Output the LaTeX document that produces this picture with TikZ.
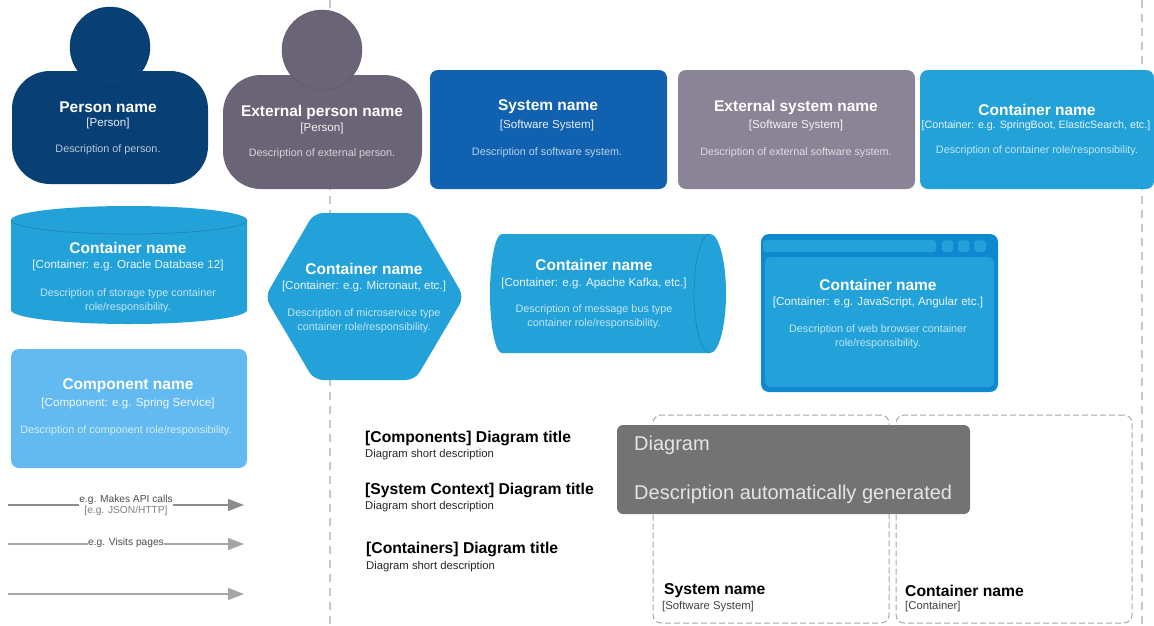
\documentclass[tikz,border=0pt]{standalone}
\usepackage{fontspec}
\setmainfont{Liberation Sans}
\usetikzlibrary{arrows.meta}
\definecolor{personblue}{HTML}{083F75}
\definecolor{extperson}{HTML}{6B6477}
\definecolor{systemblue}{HTML}{1061B0}
\definecolor{extsystem}{HTML}{8B8496}
\definecolor{containerblue}{HTML}{23A2D9}
\definecolor{browserblue}{HTML}{0F88CF}
\definecolor{componentblue}{HTML}{63BAF0}
\definecolor{tipgrey}{HTML}{737373}
\definecolor{guidegrey}{HTML}{C8C8C8}
\tikzset{
  card/.style={inner sep=0pt,rounded corners=8pt},
  cardname/.style={inner sep=0pt,text=white,font=\bfseries\fontsize{15.5}{17}\selectfont},
  cardtype/.style={inner sep=0pt,text=white,text opacity=.9,font=\fontsize{11.6}{13}\selectfont},
  carddesc/.style={inner sep=0pt,text=white,text opacity=.72,align=center,font=\fontsize{10.8}{14}\selectfont},
  plainname/.style={inner sep=0pt,anchor=west,font=\bfseries\fontsize{15.7}{17}\selectfont},
  plaintype/.style={inner sep=0pt,anchor=west,text=black!75,font=\fontsize{11.3}{13}\selectfont},
  frame/.style={draw=black!35,line width=1pt,dash pattern=on 6pt off 3pt,rounded corners=8pt,inner sep=0pt},
  guide/.style={draw=guidegrey,line width=1.2pt,dash pattern=on 8pt off 6pt},
  rel/.style={draw=black!45,line width=1.2pt,-{Triangle[length=16pt,width=12pt]}},
  rellabel/.style={fill=white,inner sep=0pt,align=center,text=black!70,font=\fontsize{10.2}{12}\selectfont},
  tiptext/.style={inner sep=0pt,anchor=west,text=white!90!black,font=\fontsize{20}{22}\selectfont}
}
\begin{document}
\begin{tikzpicture}[x=1pt,y=-1pt]
\useasboundingbox (0,0) rectangle (1154,625);
  % page guides
  \foreach \x in {330,1142}
    \draw[guide] (\x,0) -- (\x,625);
  % people
  \node[card,fill=personblue,rounded corners=38pt,minimum width=196pt,minimum height=113pt] (person) at (110,127.5) {};
  \node[circle,inner sep=0pt,fill=personblue,draw=black!15!personblue,minimum size=80pt] (personhead) at (110,47) {};
  \node[card,fill=extperson,rounded corners=38pt,minimum width=199pt,minimum height=114pt] (extp) at (322.5,132) {};
  \node[circle,inner sep=0pt,fill=extperson,draw=black!15!extperson,minimum size=80pt] (extphead) at (322,50) {};
  % boxes
  \foreach \n/\c/\x/\y/\w/\h in
    { system/systemblue/548.5/129.5/237/119,
      extsystem/extsystem/796.5/129.5/237/119,
      container/containerblue/1037/129.5/234/119,
      component/componentblue/129/408.5/236/119,
      browser/browserblue/879.5/313/237/158
    }
    \node[card,fill=\c,minimum width=\w pt,minimum height=\h pt] (\n) at (\x,\y) {};
  % browser window parts
  \node[card,fill=containerblue,rounded corners=6pt,minimum width=229pt,minimum height=130pt] (browserpane) at (879.5,322) {};
  \node[fill=containerblue,inner sep=0pt,rounded corners=3pt,minimum width=173pt,minimum height=12pt] (browserbar) at (849.5,246) {};
  \foreach \n/\x in {a/947.5,b/963.5,c/980}
    \node[fill=containerblue,inner sep=0pt,rounded corners=3pt,minimum size=11.5pt] (browserbtn\n) at (\x,246) {};
  % database
  \fill[containerblue] (11,220) arc[start angle=180,end angle=0,x radius=118pt,y radius=14pt]
    -- (247,310) arc[start angle=0,end angle=-180,x radius=118pt,y radius=14pt] -- cycle;
  \draw[black!25!containerblue] (11,220) arc[start angle=180,end angle=360,x radius=118pt,y radius=14pt];
  % microservice
  \fill[containerblue,rounded corners=9pt] (265,297) -- (314,213) -- (415,213) -- (464,297) -- (415,380) -- (314,380) -- cycle;
  % message bus
  \fill[containerblue] (502,234) -- (710,234) arc[start angle=90,end angle=-90,x radius=16pt,y radius=59.5pt]
    -- (502,353) arc[start angle=270,end angle=90,x radius=12pt,y radius=59.5pt] -- cycle;
  \draw[black!25!containerblue] (710,234) arc[start angle=90,end angle=270,x radius=16pt,y radius=59.5pt];
  % card names
  \foreach \n/\x/\y/\l in
    { pname/108/107/Person name,
      epname/322/112/External person name,
      sname/548/107/System name,
      esname/796/107/External system name,
      cname/1037/110/Container name,
      dbname/128/248/Container name,
      msname/364/269/Container name,
      qname/594/265/Container name,
      bname/878/285/Container name,
      coname/128/386/Component name
    }
    \node[cardname] (\n) at (\x,\y) {\l};
  % card types
  \foreach \n/\x/\y/\l in
    { ptype/108/123/{[Person]},
      eptype/322/128/{[Person]},
      stype/547/125/{[Software System]},
      estype/796/125/{[Software System]},
      dbtype/128/265/{[Container: e.g. Oracle Database 12]},
      mstype/364/286/{[Container: e.g. Micronaut, etc.]},
      qtype/594/283/{[Container: e.g. Apache Kafka, etc.]},
      btype/878/302/{[Container: e.g. JavaScript, Angular etc.]},
      cotype/128/403/{[Component: e.g. Spring Service]}
    }
    \node[cardtype] (\n) at (\x,\y) {\l};
  \node[cardtype,font=\fontsize{10.7}{13}\selectfont] (ctype) at (1036,126) {[Container: e.g. SpringBoot, ElasticSearch, etc.]};
  % card descriptions
  \foreach \n/\x/\y/\l in
    { pdesc/108/150/{Description of person.},
      epdesc/322/154/{Description of external person.},
      sdesc/547/153/{Description of software system.},
      esdesc/796/153/{Description of external software system.},
      cdesc/1037/151/{Description of container role/responsibility.},
      dbdesc/128/301/{Description of storage type container\\role/responsibility.},
      msdesc/364/321/{Description of microservice type\\container role/responsibility.},
      qdesc/594/317/{Description of message bus type\\container role/responsibility.},
      bdesc/878/337/{Description of web browser container\\role/responsibility.},
      codesc/128/431/{Description of component role/responsibility.}
    }
    \node[carddesc] (\n) at (\x,\y) {\l};
  % relationships
  \foreach \n/\y in {a/505,b/544,c/594}{
    \coordinate (from\n) at (8,\y);
    \coordinate (to\n) at (244,\y);
  }
  \draw[rel] (froma) -- node[rellabel,pos=.5] (labela) {e.g. Makes API calls\\[-1pt]{\color{black!50}[e.g. JSON/HTTP]}} (toa);
  \draw[rel,draw=black!35,line width=1.6pt] (fromb) -- node[rellabel,pos=.5,yshift=1pt] (labelb) {e.g. Visits pages} (tob);
  \draw[rel,draw=black!35,line width=1.6pt] (fromc) -- (toc);
  % diagram titles
  \foreach \n/\x/\y/\l/\s in
    { comp/365/438/{[Components] Diagram title}/454.5,
      ctx/365/490/{[System Context] Diagram title}/506.5,
      cont/366/549/{[Containers] Diagram title}/566.5
    }{
    \node[plainname] (\n title) at (\x,\y) {\l};
    \node[plaintype,text=black!85] (\n desc) at (\x,\s) {Diagram short description};
  }
  % boundaries
  \node[frame,minimum width=236pt,minimum height=208pt] (sysframe) at (771,519) {};
  \node[frame,minimum width=236pt,minimum height=208pt] (contframe) at (1014,519) {};
  \node[plainname] (sysframename) at (664,591) {System name};
  \node[plaintype] (sysframetype) at (662,607) {[Software System]};
  \node[plainname] (contframename) at (905,591) {Container name};
  \node[plaintype] (contframetype) at (905,607) {[Container]};
  % tooltip
  \node[card,fill=tipgrey,rounded corners=6pt,minimum width=353pt,minimum height=89pt] (tip) at (793.5,469.5) {};
  \node[tiptext] (tipa) at (634,445) {Diagram};
  \node[tiptext] (tipb) at (634,494) {Description automatically generated};
\end{tikzpicture}
\end{document}
